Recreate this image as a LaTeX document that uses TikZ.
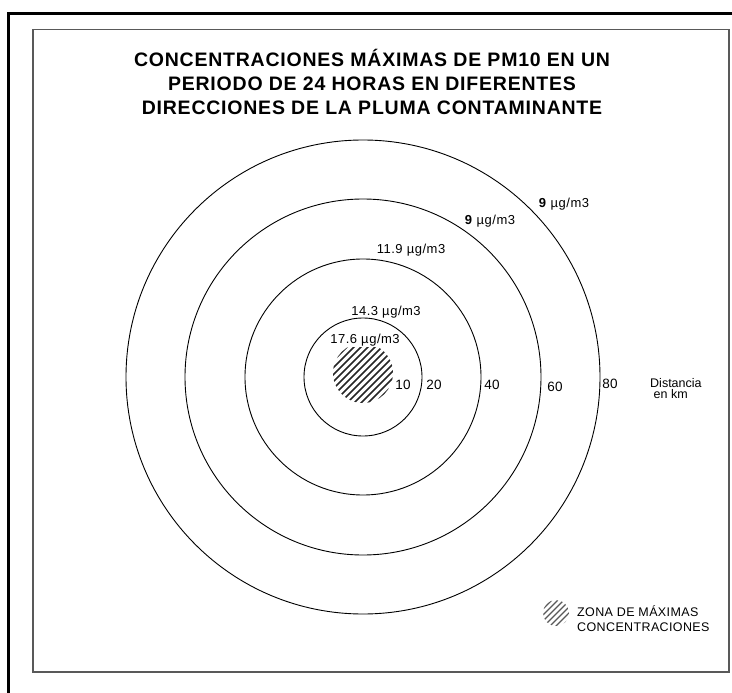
\documentclass[tikz,border=0pt]{standalone}
\usepackage{fontspec}
\usetikzlibrary{calc}
\setmainfont{Liberation Sans}
\newfontfamily\ttlfont[LetterSpace=4]{Liberation Sans}
\newfontfamily\lblfont[LetterSpace=4]{Liberation Sans}
\newfontfamily\numfont[LetterSpace=2]{Liberation Sans}
\newfontfamily\lgdfont[LetterSpace=3]{Liberation Sans}
\begin{document}
\begin{tikzpicture}[x=1pt,y=-1pt,
  ring/.style={draw=black,line width=0.9pt},
  ttl/.style={font=\ttlfont\bfseries\fontsize{19.5}{24}\selectfont,align=center,inner sep=0pt},
  lbl/.style={font=\lblfont\fontsize{13}{14}\selectfont,inner sep=0pt},
  num/.style={font=\numfont\fontsize{13.5}{14}\selectfont,inner sep=0pt},
  lgd/.style={font=\lgdfont\fontsize{12.5}{15}\selectfont,align=left,inner sep=0pt},
  hatchline/.style={line width=1.6pt,black!85},
]
\clip (0,0) rectangle (732,693);
\fill[white] (0,0) rectangle (732,693);
% frames
\draw[line width=2.2pt] (8.5,13.5) rectangle (760,720);
\draw[line width=1.4pt,draw=black!65] (33,29.5) rectangle (729,672);
% title
\node[ttl] (title) at (372,82) {CONCENTRACIONES MÁXIMAS DE PM10 EN UN\\PERIODO DE 24 HORAS EN DIFERENTES\\DIRECCIONES DE LA PLUMA CONTAMINANTE};
% rings
\coordinate (c) at (363,377);
\draw[ring] (c) circle[radius=59pt];
\draw[ring] (c) circle[radius=118pt];
\draw[ring] (c) circle[radius=178pt];
\draw[ring] (c) circle[radius=237pt];
% hatched zone
\coordinate (h) at (363,373);
\begin{scope}
  \clip (h) circle[radius=30pt];
  \foreach \k in {-70,-63,...,70} {
    \draw[hatchline] ($(h)+(\k-40,40)$) -- ($(h)+(\k+40,-40)$);
  }
\end{scope}
% concentration labels
\node[lbl,fill=white,inner ysep=0.5pt] (l176) at (365,340) {17.6 µg/m3};
\node[lbl] (l143) at (386,312) {14.3 µg/m3};
\node[lbl] (l119) at (411,250) {11.9 µg/m3};
\node[lbl] (l9a) at (490,221) {\textbf{9} µg/m3};
\node[lbl] (l9b) at (564,204) {\textbf{9} µg/m3};
% distance labels
\node[num] (d10) at (403,385) {10};
\node[num] (d20) at (434,385) {20};
\node[num] (d40) at (492,385) {40};
\node[num] (d60) at (555,387) {60};
\node[num] (d80) at (610,384) {80};
\node[font=\fontsize{12.5}{12.5}\selectfont,align=left,inner sep=0pt,anchor=north west] (dist) at (650,378) {Distancia\\[-1pt]\ en km};
% legend
\coordinate (lh) at (556,613);
\begin{scope}
  \clip (lh) circle[radius=13pt];
  \foreach \k in {-35,-29,...,35} {
    \draw[line width=1.1pt,black!65] ($(lh)+(\k-20,20)$) -- ($(lh)+(\k+20,-20)$);
  }
\end{scope}
\node[lgd,anchor=west] (legend) at (577,619) {ZONA DE MÁXIMAS\\CONCENTRACIONES};
\end{tikzpicture}
\end{document}
